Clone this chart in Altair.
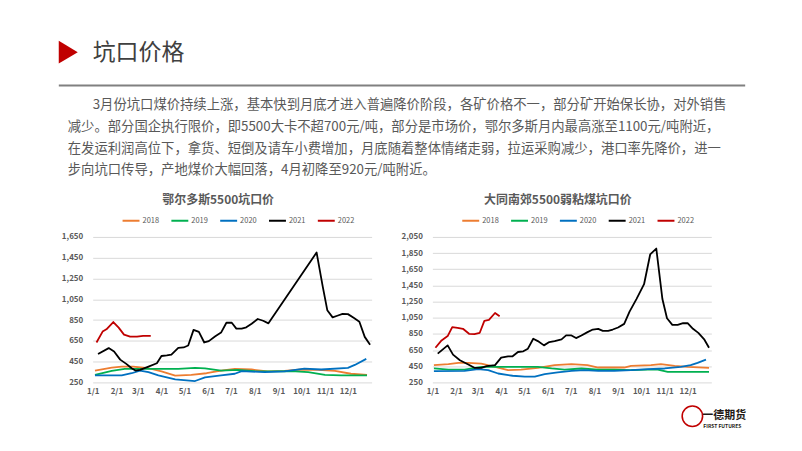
import altair as alt
import pandas as pd

FONT = "Noto Sans CJK SC"
YEARS = ["2018", "2019", "2020", "2021", "2022"]
COLORS = ["#ED7D31", "#00B050", "#0070C0", "#000000", "#C00000"]
MONTH_TICKS = [0, 31, 59, 90, 120, 151, 181, 212, 243, 273, 304, 334]

# ---- 鄂尔多斯5500坑口价 (day of year, price) ----
o_2018_day = [3, 25, 38, 53, 73, 90, 108, 129, 149, 168, 186, 208, 229, 251, 273, 295, 317, 338, 359]
o_2018_val = [364, 393, 402, 402, 386, 355, 315, 322, 338, 364, 380, 374, 355, 361, 374, 371, 361, 333, 323]
o_2019_day = [3, 25, 42, 68, 90, 112, 134, 147, 168, 190, 212, 234, 260, 282, 304, 325, 359]
o_2019_val = [323, 361, 380, 380, 380, 380, 390, 385, 364, 371, 358, 355, 358, 348, 323, 317, 317]
o_2020_day = [3, 38, 51, 62, 73, 86, 108, 134, 147, 168, 186, 195, 225, 251, 277, 299, 334, 343, 358]
o_2020_val = [317, 317, 338, 364, 348, 317, 279, 263, 298, 317, 333, 358, 348, 355, 383, 374, 390, 418, 476]
o_2021_day = [7, 21, 28, 36, 44, 51, 56, 62, 73, 84, 90, 97, 103, 112, 119, 125, 132, 139, 146, 152,
              160, 168, 175, 182, 188, 195, 201, 208, 216, 223, 230, 293, 301, 307, 314, 321, 327, 334,
              342, 349, 356, 363]
o_2021_val = [523, 580, 548, 469, 428, 386, 364, 371, 402, 434, 504, 510, 517, 583, 586, 605, 755, 736,
              634, 647, 691, 729, 824, 824, 767, 767, 780, 815, 860, 843, 818, 1500, 1174, 945, 876,
              894, 910, 907, 869, 834, 688, 612]
o_2022_day = [5, 13, 18, 27, 34, 41, 49, 58, 66, 76]
o_2022_val = [634, 739, 761, 831, 777, 710, 691, 691, 698, 698]

# ---- 大同南郊5500弱粘煤坑口价 ----
d_2018_day = [2, 21, 34, 47, 64, 82, 99, 116, 138, 160, 182, 203, 217, 238, 251, 260, 286, 299, 317, 334, 362]
d_2018_val = [463, 475, 491, 491, 483, 442, 401, 409, 430, 463, 475, 463, 434, 434, 434, 454, 463, 475, 454, 442, 430]
d_2019_day = [2, 21, 42, 64, 86, 108, 138, 156, 173, 195, 217, 238, 260, 282, 295, 308, 325, 362]
d_2019_val = [422, 409, 409, 442, 442, 442, 442, 422, 409, 422, 409, 409, 401, 409, 409, 381, 381, 381]
d_2020_day = [2, 42, 60, 73, 86, 105, 121, 134, 147, 164, 182, 199, 217, 238, 260, 282, 304, 325, 338, 347, 358]
d_2020_val = [389, 393, 414, 401, 360, 332, 320, 320, 352, 373, 393, 401, 393, 393, 401, 414, 422, 442, 463, 491, 532]
d_2021_day = [7, 20, 27, 36, 47, 55, 64, 71, 82, 90, 99, 105, 112, 119, 125, 132, 138, 146, 153, 160,
              169, 175, 182, 188, 195, 203, 210, 217, 223, 230, 236, 243, 251, 258, 267, 277, 285, 293,
              301, 307, 314, 321, 328, 334, 341, 348, 356, 362]
d_2021_val = [606, 708, 593, 524, 471, 430, 430, 450, 463, 557, 573, 573, 626, 634, 667, 790, 761, 708,
              749, 761, 782, 831, 831, 798, 831, 872, 904, 913, 888, 888, 904, 929, 974, 1125, 1281,
              1465, 1833, 1906, 1281, 1043, 962, 962, 982, 982, 913, 863, 778, 679]
d_2022_day = [4, 12, 20, 26, 33, 40, 48, 55, 62, 68, 74, 82, 88]
d_2022_val = [679, 769, 823, 933, 925, 913, 851, 847, 864, 1011, 1023, 1109, 1068]

HEAD_TITLE = "坑口价格"
PARA = [
    "3月份坑口煤价持续上涨，基本快到月底才进入普遍降价阶段，各矿价格不一，部分矿开始保长协，对外销售",
    "减少。部分国企执行限价，即5500大卡不超700元/吨，部分是市场价，鄂尔多斯月内最高涨至1100元/吨附近，",
    "在发运利润高位下，拿货、短倒及请车小费增加，月底随着整体情绪走弱，拉运采购减少，港口率先降价，进一",
    "步向坑口传导，产地煤价大幅回落，4月初降至920元/吨附近。",
]
TITLE_L = "鄂尔多斯5500坑口价"
TITLE_R = "大同南郊5500弱粘煤坑口价"


def long_df(days, vals):
    rows = []
    for y, d, v in zip(YEARS, days, vals):
        for di, vi in zip(d, v):
            rows.append({"year": y, "day": di, "price": vi})
    return pd.DataFrame(rows)


df_o = long_df([o_2018_day, o_2019_day, o_2020_day, o_2021_day, o_2022_day],
               [o_2018_val, o_2019_val, o_2020_val, o_2021_val, o_2022_val])
df_d = long_df([d_2018_day, d_2019_day, d_2020_day, d_2021_day, d_2022_day],
               [d_2018_val, d_2019_val, d_2020_val, d_2021_val, d_2022_val])

PW, PH = 280, 146


def panel(df, title, ymin, ymax):
    lines = alt.Chart(df).mark_line(strokeWidth=1.8, strokeJoin="round").encode(
        x=alt.X("day:Q", scale=alt.Scale(domain=[0, 365], nice=False, zero=False),
                axis=alt.Axis(values=MONTH_TICKS,
                              labelExpr="(month(datetime(2021,0,1+datum.value))+1) + '/1'",
                              grid=False, domain=False, ticks=False, labelFlush=False,
                              labelOverlap=False, labelFontSize=8, labelFontWeight="bold",
                              labelColor="#595959", labelPadding=5, title=None)),
        y=alt.Y("price:Q", scale=alt.Scale(domain=[ymin, ymax], nice=False, zero=False),
                axis=alt.Axis(values=list(range(ymin, ymax + 1, 200)), format=",.0f",
                              grid=True, gridColor="#d9d9d9", gridWidth=1, domain=False,
                              ticks=False, labelPadding=10, labelFontSize=8,
                              labelFontWeight="bold", labelColor="#595959", title=None)),
        color=alt.Color("year:N", scale=alt.Scale(domain=YEARS, range=COLORS),
                        legend=alt.Legend(title=None, orient="none", legendX=29, legendY=-26,
                                          direction="horizontal", symbolType="stroke",
                                          symbolStrokeWidth=2, symbolSize=289,
                                          labelFontSize=7.5, labelColor="#595959",
                                          columnPadding=8, labelOffset=2, padding=0)),
    )
    return lines.properties(
        width=PW, height=PH,
        title=alt.TitleParams(title, fontSize=12, fontWeight="bold", color="#595959",
                              anchor="middle", frame="group", dx=-14, offset=4, font=FONT),
    )


left = panel(df_o, TITLE_L, 250, 1650)

logo_ring = alt.Chart(pd.DataFrame({"k": [0]})).mark_point(
    shape="circle", size=420, color="#C00000", strokeWidth=1.6, filled=False, opacity=1
).encode(x=alt.value(261), y=alt.value(180))
logo_cn = alt.Chart(pd.DataFrame({"t": ["一德期货"]})).mark_text(
    align="left", baseline="middle", fontSize=11, fontWeight="bold", color="#231815", font=FONT
).encode(x=alt.value(271), y=alt.value(180), text="t:N")
logo_en = alt.Chart(pd.DataFrame({"t": ["FIRST FUTURES"]})).mark_text(
    align="left", baseline="middle", fontSize=5, fontWeight="bold", color="#231815", font=FONT
).encode(x=alt.value(272), y=alt.value(190), text="t:N")

right = alt.layer(panel(df_d, TITLE_R, 250, 2050), logo_ring, logo_cn, logo_en).properties(
    width=PW, height=PH)

spacer = alt.Chart(pd.DataFrame({"k": [0]})).mark_point(opacity=0).encode(
    x=alt.value(0), y=alt.value(0)).properties(width=21, height=10)

# ---- header ----
HW, HH = 786, 186
tri = alt.Chart(pd.DataFrame({"k": [0]})).mark_point(
    shape="M -0.83 -1 L 0.83 0 L -0.83 1 Z", size=529, filled=True, color="#C00000",
    opacity=1, strokeWidth=0
).encode(x=alt.value(57.5), y=alt.value(43.5))
htitle = alt.Chart(pd.DataFrame({"t": [HEAD_TITLE]})).mark_text(
    align="left", baseline="middle", fontSize=23, color="#404040", font=FONT
).encode(x=alt.value(82), y=alt.value(44), text="t:N")
hrule = alt.Chart(pd.DataFrame({"k": [0]})).mark_rule(color="#808080", strokeWidth=2).encode(
    x=alt.value(48), x2=alt.value(737), y=alt.value(77))
para_layers = []
para_x = [82, 57, 57, 57]
para_y = [97, 119, 141, 162]
for line, px, py in zip(PARA, para_x, para_y):
    para_layers.append(
        alt.Chart(pd.DataFrame({"t": [line]})).mark_text(
            align="left", baseline="middle", fontSize=13.4, color="#595959", font=FONT
        ).encode(x=alt.value(px), y=alt.value(py), text="t:N")
    )
header = alt.layer(tri, htitle, hrule, *para_layers).properties(width=HW, height=HH)

bottom = alt.hconcat(spacer, left, right, spacing=29).resolve_scale(
    color="independent", x="independent", y="independent"
).resolve_legend(color="independent")
chart = alt.vconcat(header, bottom, spacing=0).properties(
    padding=0, background="#ffffff"
).configure(font=FONT).configure_view(stroke="transparent", strokeWidth=0)

chart.save("out.html", embed_options={"renderer": "svg", "actions": False})
